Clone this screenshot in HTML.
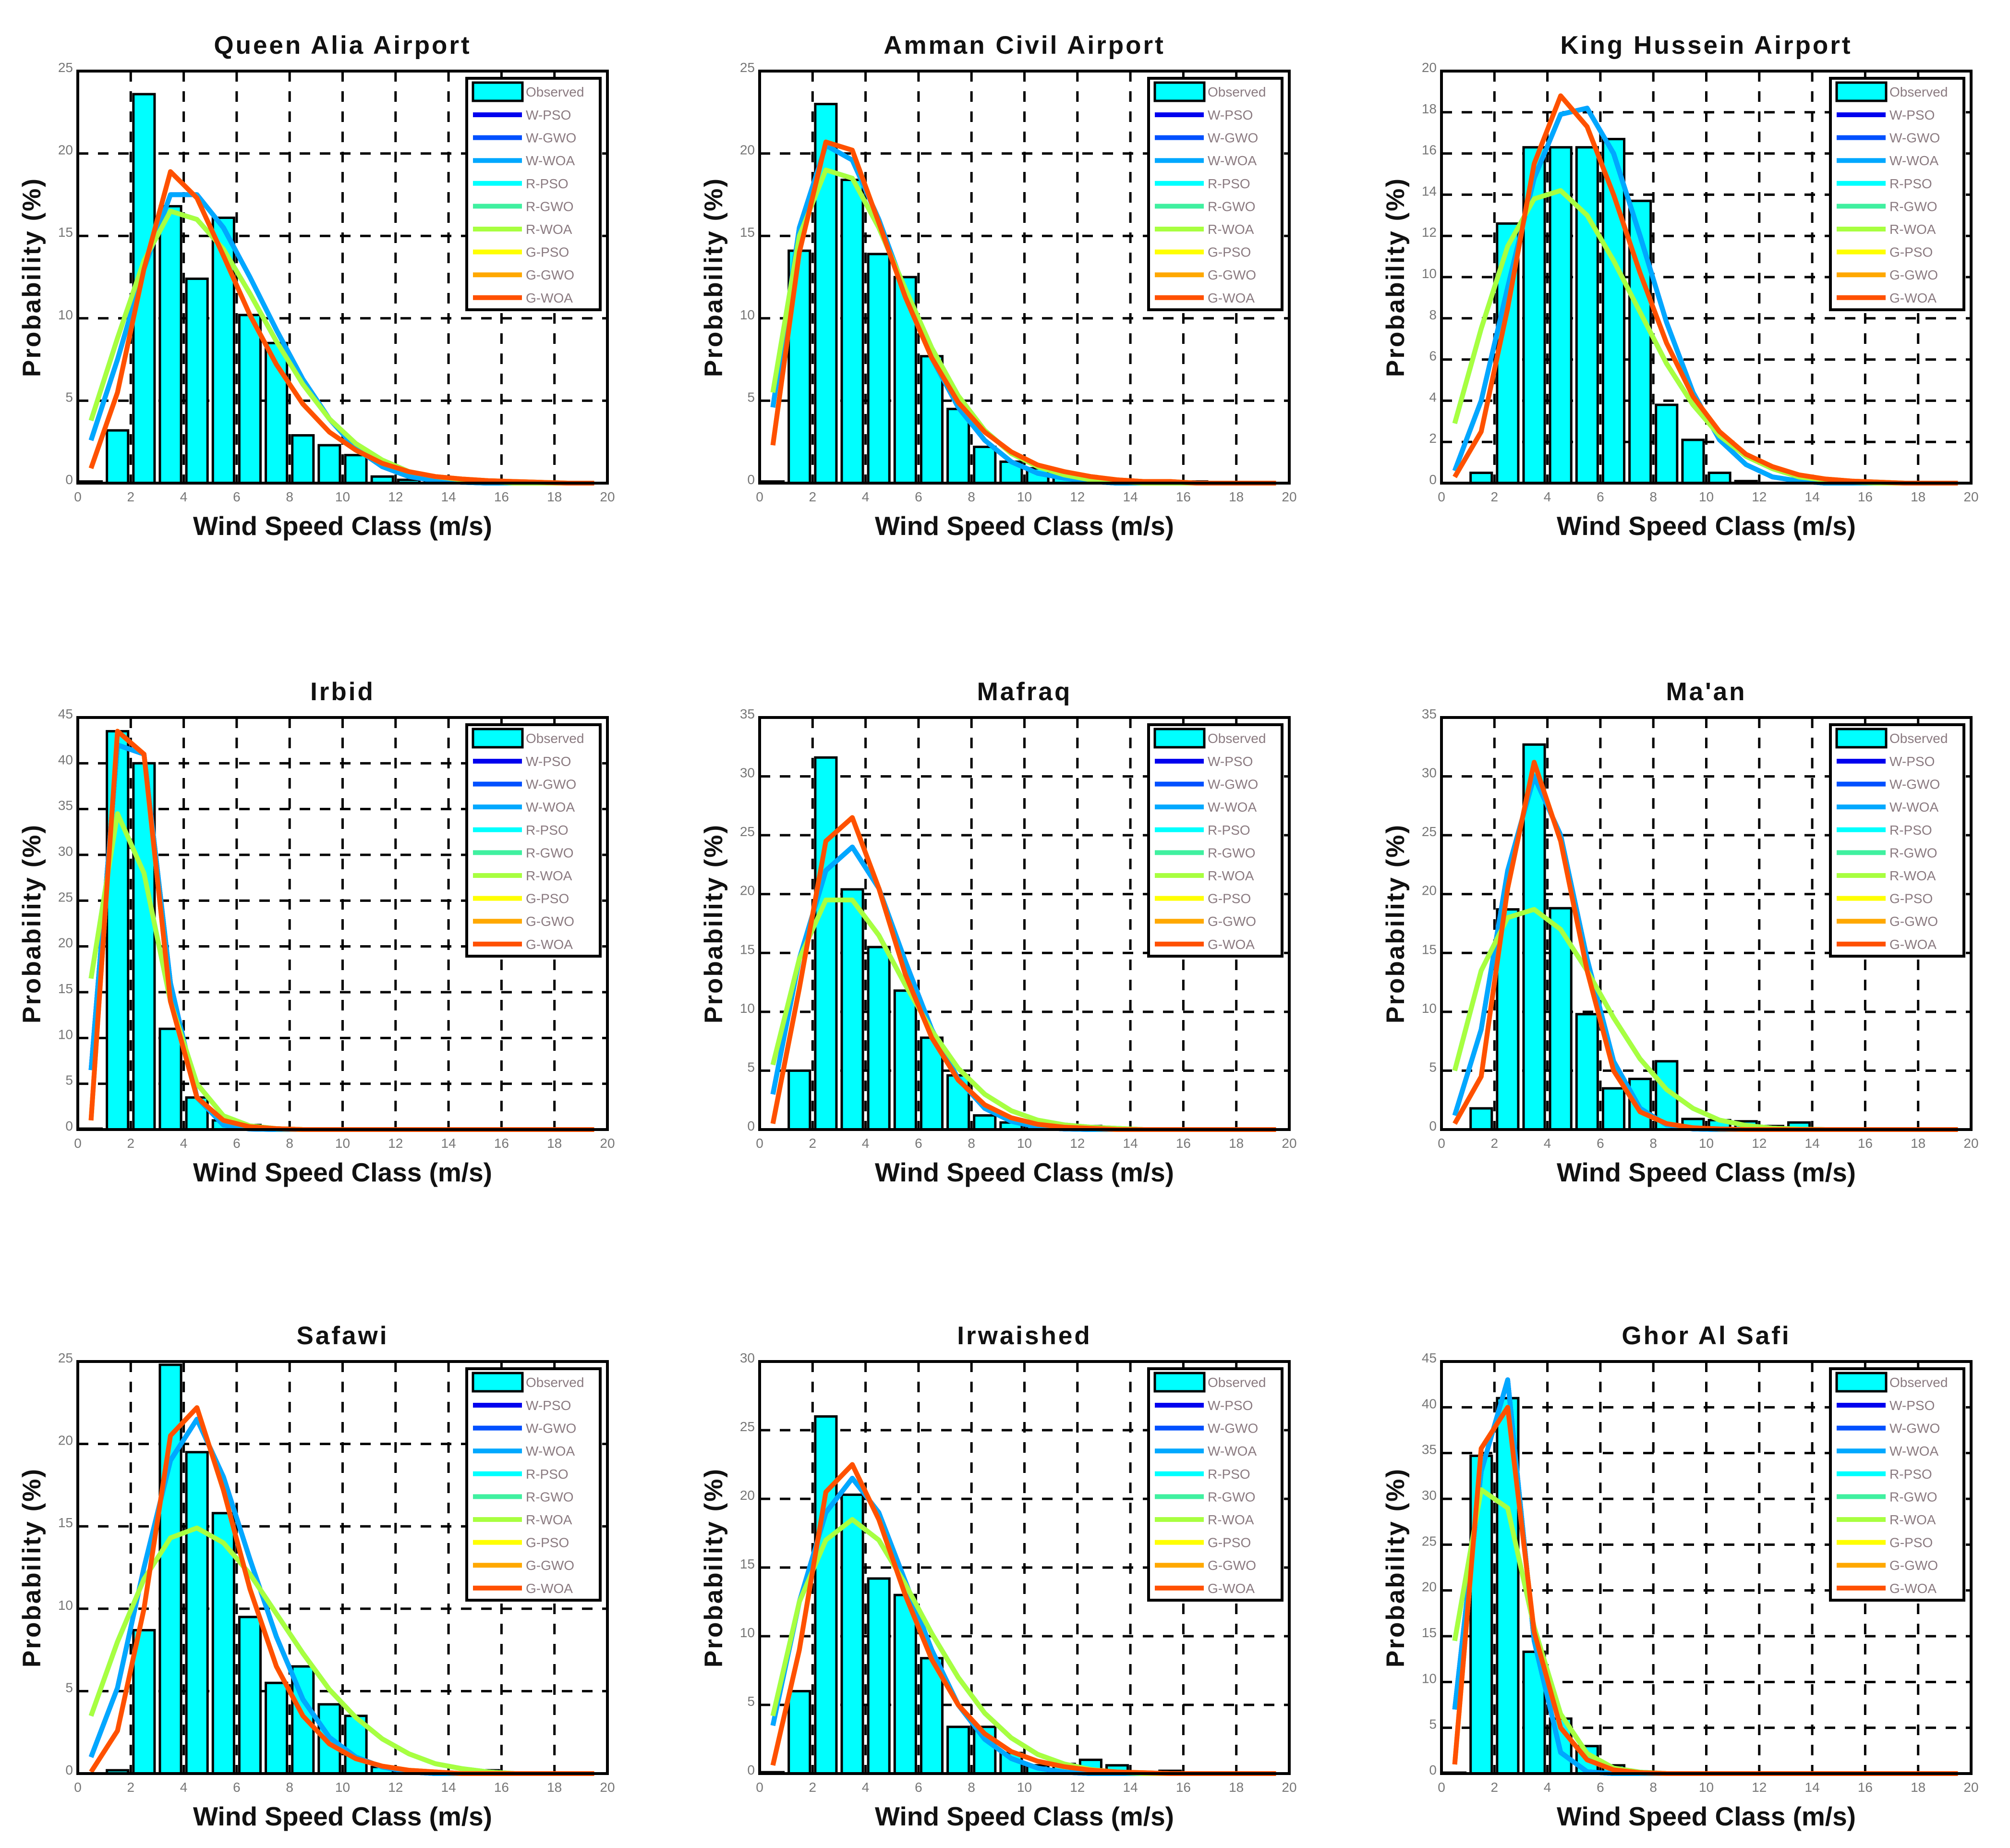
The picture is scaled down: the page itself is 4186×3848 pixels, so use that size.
<!DOCTYPE html>
<html><head><meta charset="utf-8"><style>
html,body{margin:0;padding:0;background:#fff}
svg{display:block}
text{font-family:"Liberation Sans",sans-serif}
</style></head><body>
<svg id="fig" width="4186" height="3848" viewBox="0 0 4186 3848" xmlns="http://www.w3.org/2000/svg"></svg>
<script>
const titles=["Queen Alia Airport","Amman Civil Airport","King Hussein Airport","Irbid","Mafraq","Ma'an","Safawi","Irwaished","Ghor Al Safi"];
const yMaxes=[25,25,20,45,35,35,25,30,45];
const yStepS=[5,5,2,5,5,5,5,5,5];
const xTicks=[0,2,4,6,8,10,12,14,16,18,20];
const seriesNames=["W-PSO","W-GWO","W-WOA","R-PSO","R-GWO","R-WOA","G-PSO","G-GWO","G-WOA"];
const seriesColors=["#0000ee","#0050ff","#00a8ff","#00ffff","#40f0a0","#a8ff40","#ffff00","#ffa800","#ff5000"];
const observed=[
[0.1,3.2,23.6,16.8,12.4,16.1,10.2,8.5,2.9,2.3,1.7,0.4,0.2,0.1,0.1,0.2,0,0,0,0],
[0.1,14.1,23.0,18.4,13.9,12.5,7.7,4.5,2.2,1.3,0.9,0.6,0.3,0.1,0.1,0.1,0.1,0,0,0],
[0,0.5,12.6,16.3,16.3,16.3,16.7,13.7,3.8,2.1,0.5,0.1,0,0,0,0,0,0,0,0],
[0.1,43.5,40.0,11.0,3.5,1.0,0.5,0.2,0.1,0,0,0,0,0,0,0,0,0,0,0],
[0,5.0,31.6,20.4,15.5,11.8,7.8,4.6,1.2,0.6,0.3,0.1,0.3,0,0,0,0,0,0,0],
[0,1.8,18.7,32.7,18.8,9.8,3.5,4.3,5.8,0.9,0.8,0.7,0.3,0.6,0.1,0,0.1,0,0,0],
[0,0.2,8.7,24.8,19.5,15.8,9.5,5.5,6.5,4.2,3.5,0.4,0.2,0.1,0,0.2,0,0,0,0],
[0.1,6.0,26.0,20.3,14.2,13.0,8.4,3.4,3.4,1.5,0.6,0.7,1.0,0.6,0.1,0.2,0,0,0,0],
[0.1,34.7,41.0,13.3,6.0,3.0,0.9,0.2,0,0,0,0,0,0,0,0,0,0,0,0]];
const wFits=[
[2.6,7.5,13.0,17.5,17.5,15.5,12.5,9.3,6.3,3.9,2.1,1.0,0.4,0.15,0.05,0,0,0,0,0],
[4.6,15.5,20.5,19.6,16.0,11.6,7.6,4.6,2.6,1.3,0.6,0.3,0.1,0,0,0,0,0,0,0],
[0.6,4.0,9.5,14.8,17.9,18.2,16.0,12.0,7.8,4.4,2.1,0.9,0.3,0.1,0,0,0,0,0,0],
[6.5,42,41,16,3.5,0.5,0.05,0,0,0,0,0,0,0,0,0,0,0,0,0],
[3.0,14.5,22.0,24.0,20.5,14.3,8.5,4.3,1.8,0.7,0.2,0.05,0,0,0,0,0,0,0,0],
[1.2,8.5,22.0,30.0,25.0,14.5,5.8,1.8,0.4,0.05,0,0,0,0,0,0,0,0,0,0],
[1.0,5.2,12.5,19.0,21.5,18.0,13.0,8.3,4.5,2.2,1.0,0.4,0.1,0,0,0,0,0,0,0],
[3.5,12.5,19.0,21.5,19.0,14.0,9.0,5.0,2.5,1.1,0.4,0.1,0,0,0,0,0,0,0,0],
[7.0,33.0,43.0,14.5,2.3,0.2,0,0,0,0,0,0,0,0,0,0,0,0,0,0]];
const rFits=[
[3.8,8.8,13.5,16.5,16.0,14.2,11.5,8.6,6.0,3.9,2.4,1.4,0.7,0.4,0.2,0.1,0,0,0,0],
[5.5,15.0,19.0,18.5,15.5,11.8,8.2,5.3,3.2,1.8,1.0,0.5,0.2,0.1,0,0,0,0,0,0],
[2.9,7.5,11.5,13.8,14.2,13.0,10.8,8.3,5.8,3.8,2.3,1.3,0.7,0.3,0.15,0.05,0,0,0,0],
[16.5,34.5,28,14,5,1.5,0.4,0.1,0,0,0,0,0,0,0,0,0,0,0,0],
[5.5,14.5,19.5,19.5,16.5,12.3,8.4,5.2,3.0,1.6,0.8,0.4,0.2,0.1,0,0,0,0,0,0],
[5.0,13.5,18.0,18.7,17.0,13.5,9.5,6.0,3.4,1.8,0.8,0.35,0.12,0.04,0,0,0,0,0,0],
[3.5,8.0,11.8,14.3,14.9,14.0,12.1,9.7,7.3,5.1,3.4,2.1,1.2,0.6,0.3,0.1,0,0,0,0],
[4.2,12.5,17.0,18.5,17.0,13.8,10.2,7.0,4.4,2.6,1.4,0.7,0.3,0.1,0,0,0,0,0,0],
[14.5,31.0,29.0,16.0,6.5,2.2,0.6,0.15,0,0,0,0,0,0,0,0,0,0,0,0]];
const gFits=[
[0.9,5.5,13.0,18.9,17.3,13.8,10.2,7.2,4.8,3.1,2.0,1.2,0.7,0.4,0.25,0.15,0.1,0.05,0,0],
[2.3,14.0,20.7,20.2,15.8,11.3,7.6,4.9,3.1,1.9,1.1,0.7,0.4,0.2,0.1,0.1,0,0,0,0],
[0.3,2.5,8.5,15.5,18.8,17.3,14.0,10.2,6.8,4.2,2.5,1.4,0.8,0.4,0.2,0.1,0.05,0,0,0],
[1.0,43.5,41.0,14.0,3.5,1.0,0.3,0.1,0,0,0,0,0,0,0,0,0,0,0,0],
[0.5,12.0,24.5,26.5,20.5,13.2,7.8,4.2,2.1,1.0,0.45,0.2,0.1,0,0,0,0,0,0,0],
[0.5,4.5,20.5,31.2,24.5,13.5,5.0,1.5,0.5,0.15,0.05,0,0,0,0,0,0,0,0,0],
[0.1,2.6,10.0,20.5,22.2,17.2,11.2,6.5,3.5,1.8,0.9,0.45,0.2,0.1,0,0,0,0,0,0],
[0.6,9.0,20.5,22.5,18.5,13.0,8.3,5.0,2.9,1.6,0.9,0.5,0.25,0.12,0.06,0,0,0,0,0],
[1.0,35.5,40.0,15.5,5.0,1.5,0.4,0.1,0,0,0,0,0,0,0,0,0,0,0,0]];

const NS="http://www.w3.org/2000/svg";
const svg=document.getElementById('fig');
function mk(tag,attrs,parent){const e=document.createElementNS(NS,tag);for(const k in attrs)e.setAttribute(k,attrs[k]);(parent||svg).appendChild(e);return e;}
const colX=[162,1582,3002], rowY=[148,1494,2835], AW=1103, AH=858;
function fitFor(p,s){ if(s<3) return wFits[p]; if(s<6) return rFits[p]; return gFits[p]; }

for(let p=0;p<9;p++){
  const L=colX[p%3], T=rowY[Math.floor(p/3)], R=L+AW, B=T+AH;
  const xs=v=>L+v/20*AW, ys=v=>B-v/yMaxes[p]*AH;
  const g=mk('g',{});
  
  
  const t=mk('text',{x:(L+R)/2,y:T-36,'text-anchor':'middle','font-size':53,'font-weight':'bold','letter-spacing':4,fill:'#111'},g);
  t.textContent=titles[p];
  
  
  for(const v of xTicks){ if(v===0||v===20) continue;
    const ln=mk('line',{x1:xs(v),x2:xs(v),y1:T,y2:B,stroke:'#000','stroke-width':5,'stroke-dasharray':'22 20'},g);
    
    }
  for(let v=yStepS[p];v<yMaxes[p];v+=yStepS[p]){
    const ln=mk('line',{x1:L,x2:R,y1:ys(v),y2:ys(v),stroke:'#000','stroke-width':5,'stroke-dasharray':'22 20'},g);
    
    }
  observed[p].forEach((v,i)=>{
    const b=mk('rect',{x:xs(i+0.1),y:ys(v),width:xs(0.8)-xs(0),height:Math.max(0,B-ys(v)),fill:'#00ffff',stroke:'#000','stroke-width':5},g);
    
    
  });
  for(let s=0;s<9;s++){
    const d=fitFor(p,s).map((v,i)=>xs(i+0.5).toFixed(1)+','+ys(v).toFixed(1)).join(' ');
    const pl=mk('polyline',{points:d,fill:'none',stroke:seriesColors[s],'stroke-width':10,'stroke-linejoin':'round'},g);
    
    
  }
  const bx=mk('rect',{x:L,y:T,width:AW,height:AH,fill:'none',stroke:'#000','stroke-width':6},g);
  
  
  for(const v of xTicks){
    const tx=mk('text',{x:xs(v),y:B+38,'text-anchor':'middle','font-size':28,fill:'#777'},g);
    tx.textContent=v;
    
    }
  for(let v=0;v<=yMaxes[p];v+=yStepS[p]){
    const tx=mk('text',{x:L-10,y:ys(v)+2,'text-anchor':'end','font-size':28,fill:'#777'},g);
    tx.textContent=v;
    
    }
  const xl=mk('text',{x:(L+R)/2,y:B+108,'text-anchor':'middle','font-size':55,'font-weight':'bold',fill:'#111'},g);
  xl.textContent='Wind Speed Class (m/s)';
  
  
  const yl=mk('text',{x:0,y:0,'text-anchor':'middle','font-size':53,'font-weight':'bold',fill:'#111','letter-spacing':3,transform:`translate(${L-78},${(T+B)/2}) rotate(-90)`},g);
  yl.textContent='Probability (%)';
  
  
  const lg=mk('g',{},g);
  
  
  const LL=L+810, LT=T+15;
  mk('rect',{x:LL,y:LT,width:AW-825,height:482,fill:'#fff',stroke:'#000','stroke-width':6},lg);
  mk('rect',{x:LL+13,y:LT+9,width:103,height:38,fill:'#00ffff',stroke:'#000','stroke-width':5},lg);
  const ot=mk('text',{x:LL+123,y:LT+38,'font-size':28,fill:'#8a7a80'},lg);
  ot.textContent='Observed';
  
  
  for(let s=0;s<9;s++){
    const yy=LT+76+s*47.6;
    mk('line',{x1:LL+13,x2:LL+115,y1:yy,y2:yy,stroke:seriesColors[s],'stroke-width':10},lg);
    const lt=mk('text',{x:LL+123,y:yy+10,'font-size':28,fill:'#8a7a80'},lg);
    lt.textContent=seriesNames[s];
    
    
  }
}
</script>
</body></html>
